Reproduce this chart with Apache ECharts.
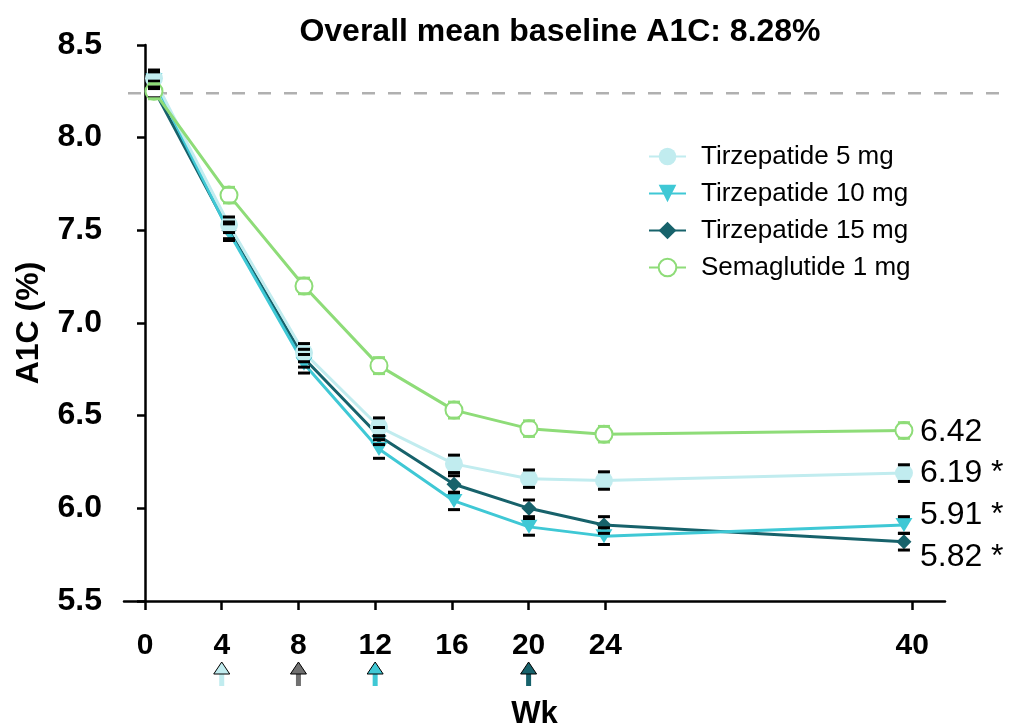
<!DOCTYPE html>
<html>
<head>
<meta charset="utf-8">
<script src="https://cdn.jsdelivr.net/npm/echarts@6/dist/echarts.min.js"></script>
<style>
  html, body { margin: 0; padding: 0; background: #fff; }
  #main { width: 1012px; height: 727px; }
</style>
</head>
<body>
<div id="main"></div>
<script>
// weeks and mean A1C (%) per arm
const weeks = [0, 4, 8, 12, 16, 20, 24, 40];
const tickWeeks = [0, 4, 8, 12, 16, 20, 24, 40];
const tirz5 = [8.32, 7.53, 6.84, 6.44, 6.24, 6.16, 6.15, 6.19];
const tirz10 = [8.31, 7.49, 6.78, 6.32, 6.04, 5.90, 5.85, 5.91];
const tirz15 = [8.26, 7.50, 6.81, 6.39, 6.13, 6.00, 5.91, 5.82];
const sema1 = [8.25, 7.69, 7.20, 6.77, 6.53, 6.43, 6.40, 6.42];
// standard errors (half bar height)
const seTirz5 = [0.045, 0.042, 0.049, 0.048, 0.047, 0.047, 0.047, 0.045];
const seTirz10 = [0.045, 0.045, 0.05, 0.05, 0.047, 0.045, 0.045, 0.045];
const seTirz15 = [0.045, 0.045, 0.048, 0.046, 0.046, 0.045, 0.045, 0.045];
const seSema1 = [0.04, 0.042, 0.042, 0.043, 0.043, 0.042, 0.042, 0.042];
const endText = ['6.19 *', '5.91 *', '5.82 *', '6.42'];
const baselineLine = 8.24;
const arrowWeeks = [4, 8, 12, 20];

const FONT = '"Liberation Sans", Arial, sans-serif';
const C5 = '#c1ecef', C10 = '#3fc8d5', C15 = '#17626b', CS = '#8edc78';
const arrowColors = [C5, '#707070', C10, C15];

function pairs(vals) {
    return weeks.map((w, i) => [w, vals[i]]);
}

function errSeries(vals, se, color) {
    return {
        type: 'custom',
        xAxisIndex: 1,
        z: 5,
        silent: true,
        data: weeks.map((w, i) => [w, vals[i], se[i]]),
        renderItem: function (params, api) {
            const w = api.value(0), v = api.value(1), e = api.value(2);
            const top = api.coord([w, v + e]);
            const bot = api.coord([w, v - e]);
            const st = { stroke: color, lineWidth: 3 };
            return {
                type: 'group',
                children: [
                    { type: 'line', shape: { x1: top[0] - 6, y1: top[1], x2: top[0] + 6, y2: top[1] }, style: st },
                    { type: 'line', shape: { x1: bot[0] - 6, y1: bot[1], x2: bot[0] + 6, y2: bot[1] }, style: st }
                ]
            };
        }
    };
}

function lineSeries(name, vals, color, symbol, size, extra, endIdx, off) {
    return Object.assign({
        name: name,
        type: 'line',
        xAxisIndex: 1,
        data: pairs(vals),
        symbol: symbol,
        symbolSize: size,
        showAllSymbol: true,
        lineStyle: { color: color, width: 3 },
        itemStyle: { color: color },
        endLabel: {
            show: true,
            formatter: endText[endIdx],
            fontFamily: FONT,
            fontSize: 32,
            color: '#000',
            distance: 16,
            offset: off
        },
        animation: false
    }, extra);
}

const chart = echarts.init(document.getElementById('main'));

const option = {
    animation: false,
    title: {
        text: 'Overall mean baseline A1C: 8.28%',
        left: 555,
        textAlign: 'center',
        top: 11,
        textStyle: { fontFamily: FONT, fontSize: 32, fontWeight: 'bold', color: '#000' }
    },
    legend: {
        data: ['Tirzepatide 5 mg', 'Tirzepatide 10 mg', 'Tirzepatide 15 mg', 'Semaglutide 1 mg'],
        orient: 'vertical',
        left: 643,
        top: 137,
        itemWidth: 37,
        itemHeight: 22,
        itemGap: 8,
        textStyle: { fontFamily: FONT, fontSize: 26, color: '#000', lineHeight: 29, padding: [0, 0, 0, 10] }
    },
    grid: { left: 124, right: 67, top: 45, bottom: 126, outerBoundsMode: 'none' },
    xAxis: [
        {
            type: 'value',
            min: -1.095,
            max: 41.71,
            name: 'Wk',
            nameLocation: 'middle',
            nameGap: 98,
            nameTextStyle: { fontFamily: FONT, fontSize: 31, fontWeight: 'bold', color: '#000' },
            axisLine: { lineStyle: { color: '#000', width: 2.5 } },
            axisTick: { show: true, length: 9, lineStyle: { color: '#000', width: 2.5 }, customValues: tickWeeks },
            axisLabel: {
                customValues: tickWeeks,
                margin: 30,
                fontFamily: FONT, fontSize: 30, fontWeight: 'bold', color: '#000'
            },
            splitLine: { show: false }
        },
        {
            type: 'value',
            min: -1.6,
            max: 42.19,
            show: false
        }
    ],
    yAxis: {
        type: 'value',
        min: 5.5,
        max: 8.5,
        interval: 0.5,
        name: 'A1C (%)',
        nameLocation: 'middle',
        nameGap: 79,
        nameTextStyle: { fontFamily: FONT, fontSize: 32, fontWeight: 'bold', color: '#000' },
        axisLine: { show: true, lineStyle: { color: '#000', width: 2.5 } },
        axisTick: { show: true, length: 8, lineStyle: { color: '#000', width: 2.5 } },
        axisLabel: {
            margin: 22,
            formatter: v => v.toFixed(1),
            fontFamily: FONT, fontSize: 32, fontWeight: 'bold', color: '#000'
        },
        splitLine: { show: false }
    },
    series: [
        lineSeries('Tirzepatide 15 mg', tirz15, C15, 'diamond', 15, {}, 2, [0, 15]),
        lineSeries('Tirzepatide 10 mg', tirz10, C10, 'triangle', [17, 14], { symbolRotate: 180 }, 1, [0, -10]),
        lineSeries('Tirzepatide 5 mg', tirz5, C5, 'circle', 18, {}, 0, [0, 0]),
        lineSeries('Semaglutide 1 mg', sema1, CS, 'emptyCircle', 17,
            { itemStyle: { color: CS, borderWidth: 3 } }, 3, [0, 2]),
        errSeries(tirz15, seTirz15, '#000'),
        errSeries(tirz10, seTirz10, '#000'),
        errSeries(tirz5, seTirz5, '#000'),
        errSeries(sema1, seSema1, CS)
    ]
};

chart.setOption(option);

// dashed baseline reference and titration arrows under the axis
const yBase = chart.convertToPixel({ yAxisIndex: 0 }, baselineLine);
const graphics = [{
    type: 'line',
    shape: { x1: 128, y1: yBase, x2: 1000, y2: yBase },
    style: { stroke: '#b0b0b0', lineWidth: 2.5, lineDash: [13, 13] },
    z: 1
}];
arrowWeeks.forEach((w, i) => {
    const x = chart.convertToPixel({ xAxisIndex: 0 }, w);
    graphics.push({
        type: 'rect',
        shape: { x: x - 2.5, y: 672, width: 5, height: 14 },
        style: { fill: arrowColors[i] }
    });
    graphics.push({
        type: 'polygon',
        shape: { points: [[x, 662], [x + 8, 674], [x - 8, 674]] },
        style: { fill: arrowColors[i], stroke: '#000', lineWidth: 1 }
    });
});
chart.setOption({ graphic: graphics });
</script>
</body>
</html>
